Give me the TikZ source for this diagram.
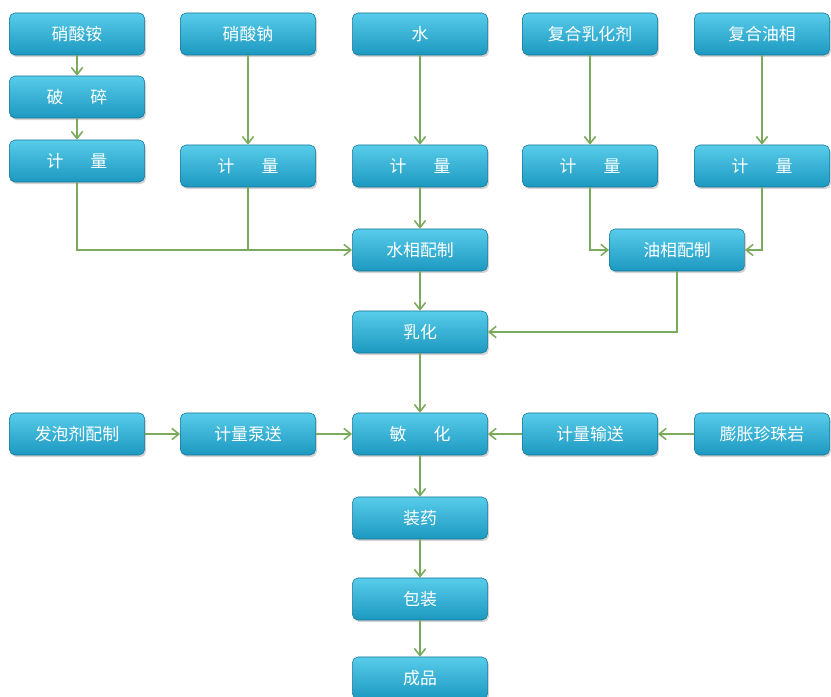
\documentclass[tikz,border=0pt]{standalone}
\usepackage{fontspec}
\setmainfont{Noto Sans CJK SC}
\usetikzlibrary{arrows.meta,shadows}
\definecolor{boxtop}{RGB}{88,204,234}
\definecolor{boxbot}{RGB}{28,152,192}
\definecolor{boxline}{RGB}{22,118,152}
\definecolor{linkgreen}{RGB}{122,170,92}
\begin{document}
\begin{tikzpicture}
[x=0.025cm,y=-0.025cm,%%%%%%%%%%%%%%%%%%%%%%%%%%%%%%
box/.style={rectangle,rounded corners=4pt,draw=boxline,thin,top color=boxtop,bottom color=boxbot,
  drop shadow={shadow xshift=1pt,shadow yshift=-1.5pt,opacity=0.35},
  minimum width=3.38cm,minimum height=1.05cm,text=white,font=\fontsize{12}{14}\selectfont},
link/.style={draw=linkgreen,line width=1.1pt,-{Straight Barb[length=5pt,width=8pt]}},
line/.style={draw=linkgreen,line width=1.1pt},
]%%%%%%%%%%%%%%%%%%%%%%%%%%%%%%
\useasboundingbox (0,0) rectangle (831,697);

% raw materials
\node[box] (an) at (77,34){硝酸铵};
\node[box] (na) at (248,34){硝酸钠};
\node[box] (wa) at (420,34){水};
\node[box] (em) at (590,34){复合乳化剂};
\node[box] (oi) at (762,34){复合油相};
\node[box] (po) at (77,97){破\hspace{1.6em}碎};
% metering
\node[box] (m1) at (77,161){计\hspace{1.6em}量};
\node[box] (m2) at (248,166){计\hspace{1.6em}量};
\node[box] (m3) at (420,166){计\hspace{1.6em}量};
\node[box] (m4) at (590,166){计\hspace{1.6em}量};
\node[box] (m5) at (762,166){计\hspace{1.6em}量};
% phases
\node[box] (sx) at (420,250){水相配制};
\node[box] (yx) at (677,250){油相配制};
\node[box] (rh) at (420,332){乳化};
% sensitizing row
\node[box] (fp) at (77,434){发泡剂配制};
\node[box] (bs) at (248,434){计量泵送};
\node[box] (mh) at (420,434){敏\hspace{1.6em}化};
\node[box] (ss) at (590,434){计量输送};
\node[box] (zz) at (762,434){膨胀珍珠岩};
% products
\node[box] (zy) at (420,518){装药};
\node[box] (bz) at (420,599){包装};
\node[box] (cp) at (420,678){成品};

\draw[link] (an) -- (po);
\draw[link] (po) -- (m1);
\draw[link] (na) -- (m2);
\draw[link] (wa) -- (m3);
\draw[link] (em) -- (m4);
\draw[link] (oi) -- (m5);
\draw[link] (m1.south) |- (sx.west);
\draw[line] (m2.south) -- (m2.south |- sx.west);
\draw[link] (m3) -- (sx);
\draw[link] (m4.south) |- (yx.west);
\draw[link] (m5.south) |- (yx.east);
\draw[link] (sx) -- (rh);
\draw[link] (yx.south) |- (rh.east);
\draw[link] (rh) -- (mh);
\draw[link] (fp) -- (bs);
\draw[link] (bs) -- (mh);
\draw[link] (zz) -- (ss);
\draw[link] (ss) -- (mh);
\draw[link] (mh) -- (zy);
\draw[link] (zy) -- (bz);
\draw[link] (bz) -- (cp);
\end{tikzpicture}
\end{document}
